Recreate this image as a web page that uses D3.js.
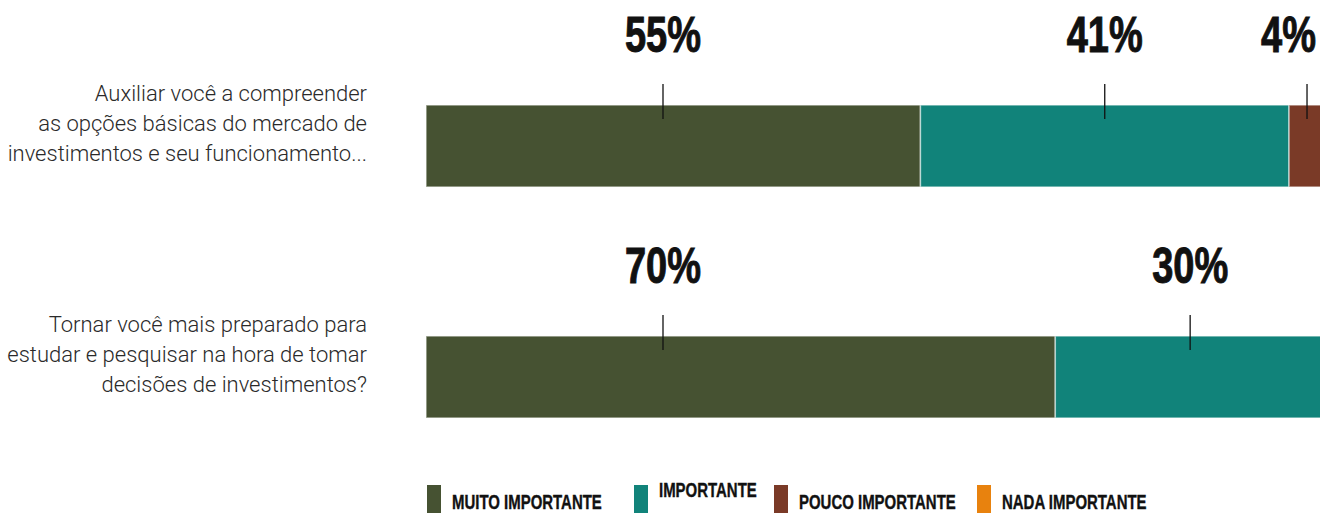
<!DOCTYPE html>
<html>
<head>
<meta charset="utf-8">
<script src="https://cdn.jsdelivr.net/npm/d3@7/dist/d3.min.js"></script>
<style>
  html, body { margin: 0; padding: 0; background: #fff; overflow: hidden; }
  svg { display: block; }
</style>
</head>
<body>
<svg id="chart" width="1320" height="513"></svg>
<script>
// ---------- DATA ----------
const categories = [
  "Auxiliar você a compreender|as opções básicas do mercado de|investimentos e seu funcionamento...",
  "Tornar você mais preparado para|estudar e pesquisar na hora de tomar|decisões de investimentos?"
];
const seriesNames = ["MUITO IMPORTANTE", "IMPORTANTE", "POUCO IMPORTANTE", "NADA IMPORTANTE"];
const muitoImportante = [55, 70];
const importante      = [41, 30];
const poucoImportante = [4, 0];
const nadaImportante  = [0, 0];
const colors = ["#465232", "#11837A", "#7A3A27", "#E8820E"];

// ---------- BUILD TABLE ----------
const seriesValues = [muitoImportante, importante, poucoImportante, nadaImportante];
const table = categories.map((c, i) => {
  const row = { category: c };
  seriesNames.forEach((s, j) => row[s] = seriesValues[j][i]);
  return row;
});
const stacked = d3.stack().keys(seriesNames)(table);

// ---------- LAYOUT ----------
const W = 1320, H = 513;
const svg = d3.select("#chart");

const x = d3.scaleLinear().domain([0, 100]).range([426, 1325]);
const y = d3.scaleBand().domain(categories).range([105, 418]).paddingInner(0.645).paddingOuter(0);
const color = d3.scaleOrdinal().domain(seriesNames).range(colors);

// Bars
const layers = svg.append("g").selectAll("g")
  .data(stacked).join("g")
  .attr("fill", d => color(d.key));

layers.selectAll("rect")
  .data(d => d.map(v => ({ key: d.key, v })))
  .join("rect")
  .filter(d => d.v[1] - d.v[0] > 0)
  .attr("x", d => x(d.v[0]))
  .attr("y", d => y(d.v.data.category))
  .attr("width", d => x(d.v[1]) - x(d.v[0]))
  .attr("height", y.bandwidth())
  .attr("stroke", "rgba(255,255,255,0.55)")
  .attr("stroke-width", 1.5);

// condensed bold text helper (horizontal squeeze of a bold sans)
const boldFont = "'Liberation Sans', Arial, 'DejaVu Sans', sans-serif";
function condensedText(parent, px, py, txt, size, sx, anchor, strokeW) {
  const g = parent.append("g").attr("transform", `translate(${px},${py}) scale(${sx},1)`);
  const t = g.append("text")
    .attr("x", 0).attr("y", 0)
    .attr("text-anchor", anchor)
    .attr("font-family", boldFont)
    .attr("font-weight", "bold")
    .attr("font-size", size)
    .attr("fill", "#111")
    .attr("stroke", "#111")
    .attr("stroke-width", strokeW || 0)
    .text(txt);
  return { g, t };
}

// Value labels and tick marks
const firstLabelOffset = 237;
const labG = svg.append("g");
const labScale = 0.76;
stacked.forEach((layer, si) => {
  layer.forEach(v => {
    const val = v[1] - v[0];
    if (val <= 0) return;
    const top = y(v.data.category);
    const cx = si === 0 ? x(v[0]) + firstLabelOffset : (x(v[0]) + x(v[1])) / 2;
    labG.append("line")
      .attr("x1", cx).attr("x2", cx)
      .attr("y1", top - 21).attr("y2", top + 14)
      .attr("stroke", "#111").attr("stroke-width", 1.3);
    const { g, t } = condensedText(labG, cx, top - 53, Math.round(val) + "%", 50, labScale, "middle", 1);
    const bb = t.node().getBBox();
    const right = cx + (bb.x + bb.width) * labScale;
    if (right > W - 4) {
      g.attr("transform", `translate(${cx - (right - (W - 4))},${top - 53}) scale(${labScale},1)`);
    }
  });
});

// Category labels
const catG = svg.append("g");
categories.forEach(c => {
  const lines = c.split("|");
  const mid = y(c) + y.bandwidth() / 2;
  const t = catG.append("text")
    .attr("text-anchor", "end")
    .attr("font-family", "Roboto, 'Noto Sans', sans-serif")
    .attr("font-weight", 300)
    .attr("font-size", 22)
    .attr("fill", "#2a2a2a");
  lines.forEach((ln, i) => {
    t.append("tspan")
      .attr("x", 367)
      .attr("y", mid - 15 + (i - 1) * 30)
      .text(ln);
  });
});

// Legend
const legendX = [427, 634, 774, 977];
const legendDy = [0, -12, 0, 0];
const legG = svg.append("g");
seriesNames.forEach((s, i) => {
  legG.append("rect")
    .attr("x", legendX[i]).attr("y", 485)
    .attr("width", 14).attr("height", 30)
    .attr("fill", color(s));
  condensedText(legG, legendX[i] + 25, 509 + legendDy[i], s, 20.5, 0.73, "start", 0.4);
});
</script>
</body>
</html>
